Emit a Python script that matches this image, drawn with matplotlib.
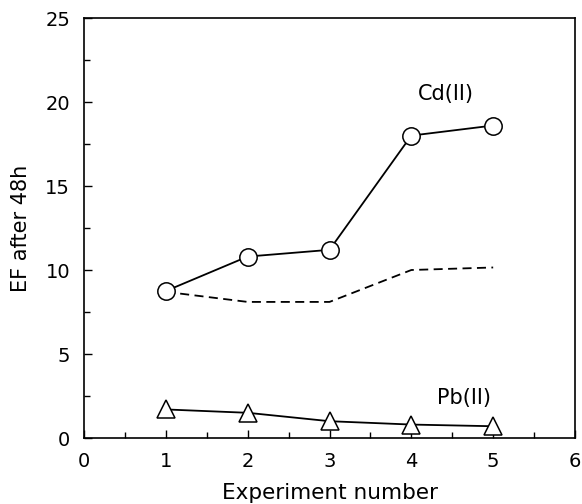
import matplotlib
matplotlib.use("Agg")
import matplotlib.pyplot as plt
from matplotlib.ticker import MultipleLocator

plt.rcParams["font.family"] = ["DejaVu Sans"]

experiment = [1, 2, 3, 4, 5]
cd_ef = [8.75, 10.8, 11.2, 18.0, 18.6]
cd_dashed = [8.7, 8.1, 8.1, 10.0, 10.15]
pb_ef = [1.7, 1.5, 1.0, 0.8, 0.7]

fig = plt.figure(figsize=(5.82, 5.04), dpi=100)
ax = fig.add_axes([84 / 582, 1 - 438 / 504, (575 - 84) / 582, (438 - 18) / 504])

ax.plot(experiment, cd_dashed, color="black", linestyle=(0, (5, 3)), linewidth=1.3, zorder=1)
ax.plot(experiment, cd_ef, color="black", linewidth=1.3, marker="o", markersize=12.5,
        markerfacecolor="white", markeredgecolor="black", markeredgewidth=1.1, zorder=2)
ax.plot(experiment, pb_ef, color="black", linewidth=1.3, marker="^", markersize=12.5,
        markerfacecolor="white", markeredgecolor="black", markeredgewidth=1.1, zorder=2)

ax.text(4.42, 20.5, "Cd(II)", fontsize=15, ha="center", va="center")
ax.text(4.64, 2.4, "Pb(II)", fontsize=15, ha="center", va="center")

ax.set_xlim(0, 6)
ax.set_ylim(0, 25)
ax.xaxis.set_major_locator(MultipleLocator(1))
ax.xaxis.set_minor_locator(MultipleLocator(0.5))
ax.yaxis.set_major_locator(MultipleLocator(5))
ax.yaxis.set_minor_locator(MultipleLocator(2.5))
ax.tick_params(which="both", direction="in", labelsize=14, width=1.0)
ax.tick_params(which="major", length=6)
ax.tick_params(axis="x", which="major", pad=10)
ax.tick_params(axis="y", which="major", pad=10)
ax.tick_params(which="minor", length=4)
for s in ax.spines.values():
    s.set_linewidth(1.2)

ax.set_xlabel("Experiment number", fontsize=15.5, labelpad=9)
ax.set_ylabel("EF after 48h", fontsize=15, labelpad=10)

fig.savefig("out.png", dpi=100)
